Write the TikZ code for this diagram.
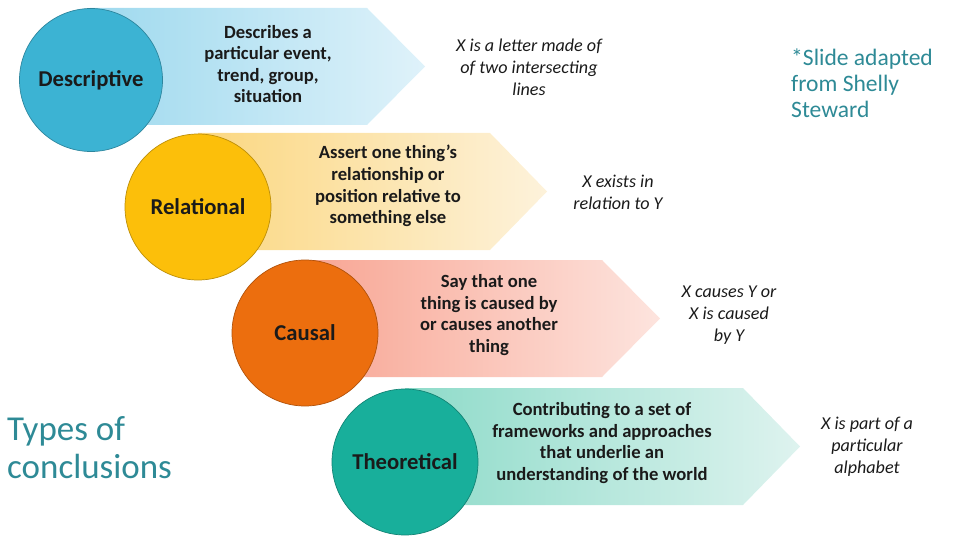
\documentclass[tikz,border=0pt]{standalone}
\usepackage{fontspec}
\setmainfont{Carlito}
\usetikzlibrary{positioning}

\definecolor{descfill}{HTML}{3CB3D3}
\definecolor{descleft}{HTML}{9ED9EE}
\definecolor{descright}{HTML}{DFF2FA}
\definecolor{relfill}{HTML}{FCBF0A}
\definecolor{relleft}{HTML}{FBD780}
\definecolor{relright}{HTML}{FDF2DB}
\definecolor{causfill}{HTML}{EC6E0E}
\definecolor{causleft}{HTML}{F8A593}
\definecolor{causright}{HTML}{FDE4DE}
\definecolor{theofill}{HTML}{18AF9B}
\definecolor{theoleft}{HTML}{8EDBC9}
\definecolor{theoright}{HTML}{DEF3EF}
\definecolor{titleteal}{HTML}{2E8A96}
\definecolor{inktext}{HTML}{1A1A1A}

\tikzset{
  kind/.style={circle, draw=#1!75!black, fill=#1, line width=0.4pt, inner sep=0pt,
    minimum size=2.92cm, text=inktext, font=\bfseries\fontsize{12.9}{14}\selectfont},
  about/.style={align=center, text=inktext, font=\bfseries\fontsize{10.6}{12.3}\selectfont},
  sample/.style={align=center, text=inktext, font=\itshape\fontsize{10.3}{12.4}\selectfont},
}

\begin{document}
\begin{tikzpicture}
\useasboundingbox (0cm,0cm) rectangle (19.2cm,-10.8cm);
% descriptive
\shade[left color=descleft, right color=descright] (1.8cm,-0.16cm) -- (7.34cm,-0.16cm) -- (8.5cm,-1.33cm) -- (7.34cm,-2.5cm) -- (1.8cm,-2.5cm) -- cycle;
\node[kind=descfill, minimum size=2.86cm] (descriptive) at (1.82cm,-1.6cm) {Descriptive};
\node[about] (descabout) at (5.36cm,-1.28cm) {Describes a\\particular event,\\trend, group,\\situation};
\node[sample] (descsample) at (10.58cm,-1.34cm) {X is a letter made of\\of two intersecting\\lines};
% relational
\shade[left color=relleft, right color=relright] (3.96cm,-2.66cm) -- (9.8cm,-2.66cm) -- (10.94cm,-3.83cm) -- (9.8cm,-5cm) -- (3.96cm,-5cm) -- cycle;
\node[kind=relfill] (relational) at (3.96cm,-4.14cm) {Relational};
\node[about] (relabout) at (7.76cm,-3.72cm) {Assert one thing’s\\relationship or\\position relative to\\something else};
\node[sample] (relsample) at (12.36cm,-3.84cm) {X exists in\\relation to Y};
% causal
\shade[left color=causleft, right color=causright] (6.1cm,-5.2cm) -- (12.04cm,-5.2cm) -- (13.2cm,-6.37cm) -- (12.04cm,-7.54cm) -- (6.1cm,-7.54cm) -- cycle;
\node[kind=causfill] (causal) at (6.1cm,-6.66cm) {Causal};
\node[about] (causabout) at (9.78cm,-6.3cm) {Say that one\\thing is caused by\\or causes another\\thing};
\node[sample] (caussample) at (14.58cm,-6.3cm) {X causes Y or\\X is caused\\by Y};
% theoretical
\shade[left color=theoleft, right color=theoright] (8.1cm,-7.76cm) -- (14.86cm,-7.76cm) -- (16cm,-8.93cm) -- (14.86cm,-10.1cm) -- (8.1cm,-10.1cm) -- cycle;
\node[kind=theofill] (theoretical) at (8.1cm,-9.24cm) {Theoretical};
\node[about] (theoabout) at (12.04cm,-8.86cm) {Contributing to a set of\\frameworks and approaches\\that underlie an\\understanding of the world};
\node[sample] (theosample) at (17.34cm,-8.94cm) {X is part of a\\particular\\alphabet};
% titles
\node[anchor=west, align=left, text=titleteal, font=\fontsize{13.4}{14.8}\selectfont] (credit) at (15.7cm,-1.66cm) {*Slide adapted\\from Shelly\\Steward};
\node[anchor=west, align=left, text=titleteal, font=\fontsize{19.9}{21.6}\selectfont] (title) at (0.02cm,-8.96cm) {Types of\\conclusions};
\end{tikzpicture}
\end{document}
